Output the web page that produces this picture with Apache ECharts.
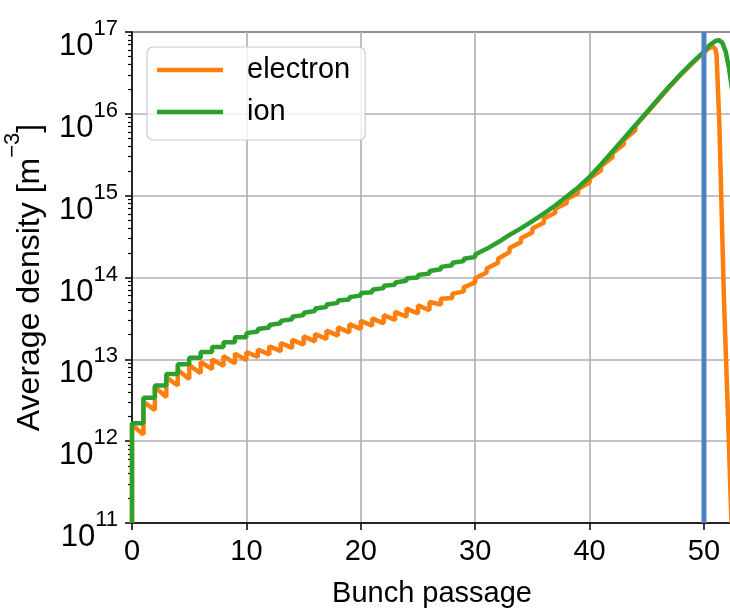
<!DOCTYPE html>
<html><head><meta charset="utf-8">
<script src="https://cdn.jsdelivr.net/npm/echarts@6/dist/echarts.min.js"></script>
<style>html,body{margin:0;padding:0;background:#fff}#c{width:730px;height:610px}</style>
</head><body><div id="c"></div><script>
// ---- data (log10 of density) ----
const xTicks = [0, 10, 20, 30, 40, 50];
const yTickExponents = [11, 12, 13, 14, 15, 16, 17];

// ion: value just after passage n and just before passage n+1, n = 0..29
const ionStartLog = [12.22, 12.53, 12.68, 12.82, 12.94, 13.02, 13.09, 13.15, 13.21, 13.27,
  13.32, 13.37, 13.42, 13.47, 13.52, 13.57, 13.62, 13.67, 13.72, 13.76,
  13.81, 13.85, 13.90, 13.94, 13.99, 14.03, 14.08, 14.13, 14.18, 14.23];
const ionEndLog = [12.22, 12.53, 12.68, 12.82, 12.94, 13.02, 13.09, 13.15, 13.21, 13.27,
  13.34, 13.39, 13.44, 13.49, 13.54, 13.59, 13.64, 13.69, 13.73, 13.78,
  13.82, 13.87, 13.91, 13.96, 14.00, 14.05, 14.10, 14.15, 14.20, 14.25];
// ion: smooth part [passage, log10 density]
const ionTailX = [30, 31, 32, 33, 34, 35, 36, 37, 38, 39, 40, 41, 42, 43, 44, 45, 46, 47, 48, 49, 50, 50.5, 51, 51.3, 51.6, 51.9, 52.2, 52.5];
const ionTailLog = [14.28, 14.35, 14.43, 14.52, 14.60, 14.69, 14.78, 14.88, 14.99, 15.10, 15.23, 15.38, 15.54, 15.70, 15.86, 16.02, 16.18, 16.34, 16.49, 16.63, 16.76, 16.84, 16.89, 16.90, 16.87, 16.76, 16.55, 16.25];

// electron: value just after passage n (peak) and just before passage n+1 (trough), n = 0..43
const elecPeakLog = [12.20, 12.48, 12.66, 12.78, 12.87, 12.93, 12.97, 13.00, 13.04, 13.07,
  13.09, 13.12, 13.16, 13.20, 13.24, 13.28, 13.31, 13.35, 13.39, 13.43,
  13.47, 13.50, 13.54, 13.58, 13.62, 13.66, 13.70, 13.74, 13.80, 13.88,
  13.99, 14.11, 14.23, 14.36, 14.48, 14.60, 14.72, 14.84, 14.96, 15.08,
  15.21, 15.36, 15.52, 15.68];
const elecTroughLog = [12.08, 12.38, 12.54, 12.68, 12.76, 12.83, 12.88, 12.92, 12.95, 12.99,
  13.03, 13.06, 13.10, 13.14, 13.18, 13.22, 13.25, 13.29, 13.33, 13.37,
  13.41, 13.44, 13.48, 13.52, 13.56, 13.60, 13.67, 13.75, 13.83, 13.94,
  14.06, 14.18, 14.31, 14.43, 14.55, 14.67, 14.79, 14.91, 15.03, 15.16,
  15.31, 15.47, 15.63, 15.80];
const elecTailX = [44, 45, 46, 47, 48, 49, 50, 50.4, 50.8, 51.0, 51.1, 51.2, 51.35, 51.75, 52.15, 52.4];
const elecTailLog = [15.85, 16.01, 16.17, 16.33, 16.48, 16.62, 16.75, 16.80, 16.82, 16.79, 16.72, 16.38, 15.85, 13.72, 12.10, 11.0];

const markerX = 50;

// ---- build series points ----
const p10 = v => Math.pow(10, v);
const ionData = [[0, 1e11]];
ionStartLog.forEach((v, n) => { ionData.push([n, p10(v)]); ionData.push([n + 1, p10(ionEndLog[n])]); });
ionTailX.forEach((x, i) => ionData.push([x, p10(ionTailLog[i])]));

const elecData = [[0, 1e11]];
elecPeakLog.forEach((v, n) => { elecData.push([n, p10(v)]); elecData.push([n + 1, p10(elecTroughLog[n])]); });
elecTailX.forEach((x, i) => elecData.push([x, p10(elecTailLog[i])]));

const FONT = 'Liberation Sans, Arial, Helvetica, sans-serif';
const chart = echarts.init(document.getElementById('c'), null, {renderer: 'canvas'});
chart.setOption({
  animation: false,
  backgroundColor: '#fff',
  grid: {left: 132, top: 32, width: 600, height: 491, show: true, borderColor: '#000', borderWidth: 1.5,
         containLabel: false, outerBoundsMode: 'none'},
  legend: {
    orient: 'vertical', left: 147, top: 47,
    data: ['electron', 'ion'],
    icon: 'rect',
    itemWidth: 66, itemHeight: 4.5, itemGap: 12,
    padding: [8, 15, 13, 10],
    backgroundColor: 'rgba(255,255,255,0.8)', borderColor: '#cccccc', borderWidth: 1.2, borderRadius: 6,
    textStyle: {fontFamily: FONT, fontSize: 29, color: '#000', padding: [0, 0, 0, 19], lineHeight: 30}
  },
  xAxis: {
    type: 'value', min: 0, max: 52.45, interval: 10,
    name: 'Bunch passage', nameLocation: 'middle', nameGap: 56,
    nameTextStyle: {fontFamily: FONT, fontSize: 29, color: '#000'},
    axisLine: {show: true, lineStyle: {color: '#000', width: 1.5}},
    axisTick: {show: true, inside: false, length: 7, lineStyle: {color: '#000', width: 1.5}},
    axisLabel: {fontFamily: FONT, fontSize: 29, color: '#000', margin: 14, showMaxLabel: false},
    splitLine: {show: true, lineStyle: {color: '#b0b0b0', width: 1.6}}
  },
  yAxis: {
    type: 'log', logBase: 10, min: 1e11, max: 1e17,
    name: '{b|Average density [m}{s|\u22123}{b|]}', nameLocation: 'middle', nameGap: 86, nameRotate: 90,
    nameTextStyle: {fontFamily: FONT, color: '#000',
      rich: {b: {fontFamily: FONT, fontSize: 32, color: '#000', lineHeight: 44, verticalAlign: 'bottom'},
             s: {fontFamily: FONT, fontSize: 22, color: '#000', lineHeight: 22, verticalAlign: 'top'}}},
    axisLine: {show: true, lineStyle: {color: '#000', width: 1.5}},
    axisTick: {show: true, inside: false, length: 7, lineStyle: {color: '#000', width: 1.5}},
    minorTick: {show: true, splitNumber: 9, length: 4, lineStyle: {color: '#000', width: 1.2}},
    axisLabel: {
      margin: 14, padding: [16, 0, 0, 0],
      formatter: v => '{b|10}{s|' + Math.round(Math.log10(v)) + '}',
      rich: {b: {fontFamily: FONT, fontSize: 31, color: '#000', lineHeight: 44, verticalAlign: 'bottom'},
             s: {fontFamily: FONT, fontSize: 22, color: '#000', lineHeight: 20, verticalAlign: 'top'}}
    },
    splitLine: {show: true, lineStyle: {color: '#b0b0b0', width: 1.6}}
  },
  series: [
    {type: 'line', name: 'electron', data: elecData, symbol: 'none', z: 2,
     lineStyle: {color: '#ff7f0e', width: 4.5}, itemStyle: {color: '#ff7f0e'}},
    {type: 'line', name: 'ion', data: ionData, symbol: 'none', z: 3,
     lineStyle: {color: '#2ca02c', width: 4.5}, itemStyle: {color: '#2ca02c'}},
    {type: 'line', name: 'marker', data: [[markerX, 1e11], [markerX, 1e17]], symbol: 'none', z: 4,
     lineStyle: {color: '#4f80c4', width: 5}}
  ]
});
</script></body></html>
